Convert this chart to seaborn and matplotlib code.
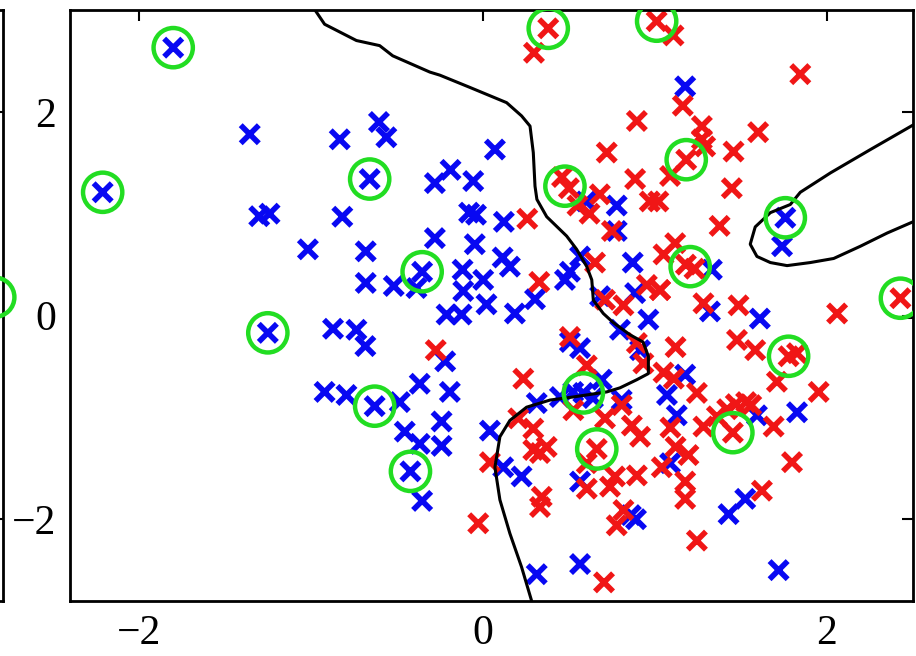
import matplotlib
matplotlib.use('Agg')
import matplotlib.pyplot as plt
import seaborn as sns
import pandas as pd

# Class 1 (blue crosses)
blue_x = [-2.21, -1.80, -1.355, -1.30, -1.24, -1.25, -1.017, -0.920, -0.871, -0.832,
          -0.817, -0.793, -0.735, -0.683, -0.681, -0.681, -0.658, -0.629, -0.604, -0.561,
          -0.518, -0.483, -0.454, -0.421, -0.386, -0.367, -0.367, -0.353, -0.353, -0.279,
          -0.279, -0.240, -0.240, -0.219, -0.211, -0.192, -0.188, -0.124, -0.118, -0.114,
          -0.08, -0.04, -0.056, -0.047, 0.002, 0.021, 0.070, 0.041, 0.115, 0.157,
          0.122, 0.118, 0.186, 0.225, 0.303, 0.313, 0.313, 0.448, 0.477, 0.506,
          0.565, 0.506, 0.565, 0.525, 0.584, 0.64, 0.565, 0.565, 0.60, 0.681,
          0.691, 0.778, 0.778, 0.797, 0.807, 0.871, 0.885, 0.914, 0.962, 0.86,
          0.89, 1.07, 1.088, 1.127, 1.176, 1.176, 1.32, 1.331, 1.428, 1.525,
          1.593, 1.61, 1.719, 1.739, 1.758, 1.826]
blue_y = [1.21, 2.63, 1.78, 0.975, 1.00, -0.17, 0.65, -0.75, -0.13, 1.73,
          0.97, -0.78, -0.14, -0.30, 0.63, 0.32, 1.34, -0.89, 1.90, 1.75,
          0.29, -0.85, -1.14, -1.53, 0.27, -0.67, -1.26, 0.43, -1.82, 1.30,
          0.76, -1.04, -1.28, -0.45, 0.01, -0.75, 1.43, 0.01, 0.45, 0.24,
          1.01, 0.99, 1.32, 0.70, 0.35, 0.11, 1.63, -1.13, 0.57, 0.48,
          0.92, -1.49, 0.02, -1.58, 0.16, -0.86, -2.54, -0.80, 0.35, 0.43,
          0.58, -0.26, -0.32, -0.75, -0.76, -0.81, -1.63, -2.44, 1.12, 0.19,
          -0.63, 1.08, 0.83, -0.14, -0.83, 0.52, 0.22, -0.34, -0.04, -1.96,
          -2.00, -0.78, -1.45, -0.98, 2.25, -0.58, 0.04, 0.45, -1.95, -1.80,
          -0.98, -0.03, -2.50, 0.68, 0.96, -0.95]

# Class 2 (red crosses)
red_x = [-0.274, -0.027, 0.041, 0.206, 0.235, 0.258, 0.293, 0.293, 0.332, 0.371,
         0.297, 0.328, 0.342, 0.332, 0.38, 0.46, 0.50, 0.506, 0.526, 0.55,
         0.604, 0.604, 0.604, 0.62, 0.652, 0.662, 0.68, 0.704, 0.71, 0.71,
         0.72, 0.75, 0.739, 0.768, 0.778, 0.807, 0.817, 0.817, 0.866, 0.885,
         0.895, 0.895, 0.895, 0.914, 0.933, 0.953, 0.97, 1.02, 1.01, 1.03,
         1.05, 1.11, 1.04, 1.088, 1.09, 1.108, 1.118, 1.12, 1.12, 1.162,
         1.176, 1.176, 1.182, 1.195, 1.18, 1.23, 1.244, 1.244, 1.273, 1.273,
         1.282, 1.282, 1.292, 1.36, 1.376, 1.42, 1.47, 1.53, 1.56, 1.447,
         1.453, 1.457, 1.477, 1.486, 1.583, 1.60, 1.622, 1.69, 1.709, 1.777,
         1.797, 1.826, 1.845, 1.952, 2.059, 2.427, 1.05, 1.03]
red_y = [-0.34, -2.04, -1.44, -1.01, -0.62, 0.95, -1.11, -1.32, -1.35, -1.29,
         2.58, 0.33, -1.78, -1.88, 2.82, 1.36, 1.25, -0.21, -0.93, 1.08,
         -0.49, -1.45, -1.70, 1.00, 0.52, -1.31, 1.19, -2.62, 0.155, -1.01,
         1.60, 0.83, -1.68, -1.58, -2.06, -0.88, 0.10, -1.91, -1.08, 1.34,
         1.91, -0.27, -1.57, -1.19, -0.47, 0.30, 1.12, 1.12, 2.89, 0.25,
         -0.56, -0.62, -1.49, 1.37, -1.10, 2.75, 0.71, -0.31, -1.29, 2.06,
         -1.63, -1.80, 1.53, -1.37, 0.50, 0.46, -0.76, -2.21, 1.86, 1.73,
         0.12, -1.09, 1.66, -0.99, 0.88, -0.92, -0.87, -0.85, -0.88, 1.25,
         -1.15, 1.61, -0.24, 0.10, -0.34, 1.80, -1.72, -1.09, -0.65, -0.40,
         -1.44, -0.37, 2.37, -0.75, 0.02, 0.17, 0.60, 0.25]

# Circled points (support vectors)
sv_x = [-1.80, -2.21, -0.658, -0.353, -1.250, -0.629, -0.421, 0.38, 1.01,
        0.477, 1.182, 1.758, 1.205, 2.427, 1.777, 0.584, 0.662, 1.453]
sv_y = [2.63, 1.21, 1.34, 0.43, -0.17, -0.89, -1.53, 2.82, 2.89,
        1.27, 1.53, 0.96, 0.48, 0.17, -0.40, -0.76, -1.31, -1.15]

# Decision boundary
bound_a_x = [-0.976, -0.920, -0.735, -0.600, -0.524, -0.308, -0.250, -0.076, 0.138, 0.225,
             0.274, 0.293, 0.303, 0.314, 0.371, 0.487, 0.545, 0.604, 0.633, 0.642,
             0.700, 0.758, 0.856, 0.931, 0.962, 0.962, 0.895, 0.797, 0.720, 0.524,
             0.390, 0.254, 0.157, 0.099, 0.070, 0.099, 0.157, 0.225, 0.283]
bound_a_y = [3.0, 2.86, 2.70, 2.65, 2.55, 2.39, 2.36, 2.24, 2.09, 1.96,
             1.86, 1.60, 1.27, 1.14, 0.97, 0.78, 0.65, 0.48, 0.35, 0.15,
             0.02, -0.07, -0.19, -0.26, -0.40, -0.57, -0.63, -0.71, -0.75, -0.80,
             -0.83, -0.90, -1.03, -1.19, -1.49, -1.81, -2.14, -2.47, -2.80]
bound_b_x = [2.50, 2.253, 2.020, 1.845, 1.787, 1.671, 1.583, 1.554, 1.593, 1.671,
             1.768, 1.903, 2.039, 2.194, 2.350, 2.50]
bound_b_y = [1.87, 1.63, 1.40, 1.21, 1.09, 1.01, 0.87, 0.70, 0.58, 0.52,
             0.49, 0.52, 0.56, 0.68, 0.81, 0.92]
bound_c_x = [2.46, 2.50]
bound_c_y = [-0.01, -0.01]

ticks = [-2, 0, 2]

sns.set_style('white')
plt.rcParams['font.family'] = ['Liberation Serif', 'DejaVu Serif']

points = pd.DataFrame({
    'x': blue_x + red_x,
    'y': blue_y + red_y,
    'cls': ['blue'] * len(blue_x) + ['red'] * len(red_x),
})

fig = plt.figure(figsize=(9.16, 6.56), dpi=100)

# neighbouring panel, only its right edge shows
ax0 = fig.add_axes([-0.917, 0.0843, 0.9203, 0.9005])
ax0.set_xlim(-2.4, 2.5)
ax0.set_ylim(-2.8, 3.0)
ax0.set_xticks([])
ax0.set_yticks(ticks)
ax0.tick_params(axis='y', direction='in', length=8, width=1.5, color='black',
                left=False, right=True, labelleft=False)
ax0.scatter([sv_x[13] + 0.025], [sv_y[13] + 0.01], s=800, facecolors='none',
            edgecolors='#22dd22', linewidths=3.2, clip_on=False, zorder=5)
for s in ax0.spines.values():
    s.set_linewidth(2)
    s.set_color('black')

ax = fig.add_axes([0.0764, 0.0843, 0.9203, 0.9005])
sns.scatterplot(data=points, x='x', y='y', hue='cls',
                palette={'blue': '#0808f2', 'red': '#f01616'},
                marker='x', s=170, linewidth=4, legend=False, ax=ax, zorder=2)
ax.plot(bound_a_x, bound_a_y, color='black', lw=2.2, zorder=3)
ax.plot(bound_b_x, bound_b_y, color='black', lw=2.2, zorder=3)
ax.plot(bound_c_x, bound_c_y, color='black', lw=2.2, zorder=3)
ax.scatter(sv_x, sv_y, s=800, facecolors='none', edgecolors='#22dd22', linewidths=3.2, zorder=4)

ax.set_xlim(-2.4, 2.5)
ax.set_ylim(-2.8, 3.0)
ax.set_xticks(ticks)
ax.set_yticks(ticks)
ax.set_xlabel('')
ax.set_ylabel('')
ax.tick_params(direction='in', length=8, width=1.5, color='black', labelcolor='black',
               top=True, right=True, labelsize=30, pad=10)
for s in ax.spines.values():
    s.set_linewidth(2)
    s.set_color('black')

fig.savefig('out.png', dpi=100)
